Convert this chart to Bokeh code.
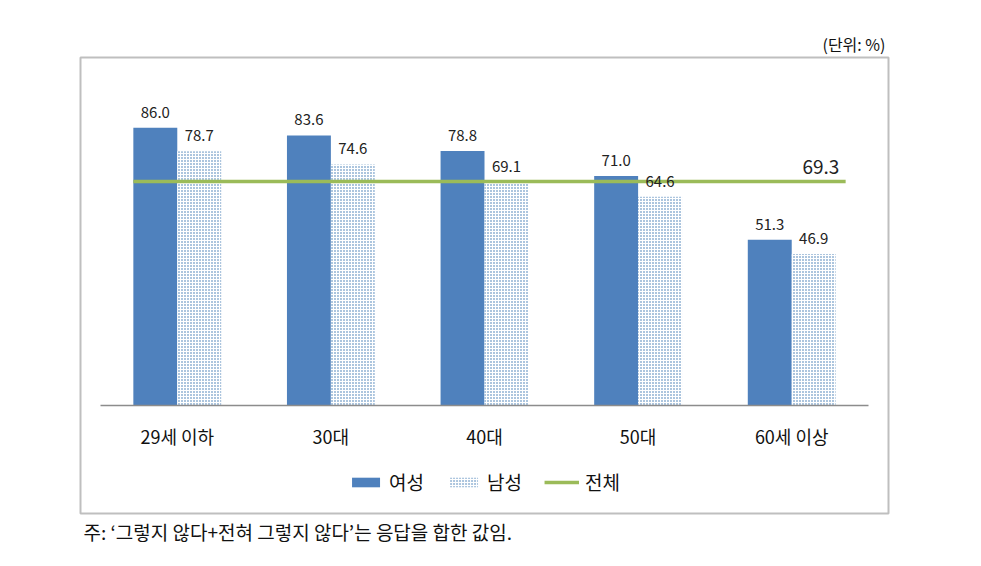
from bokeh.plotting import figure
from bokeh.models import FactorRange, Range1d, ColumnDataSource, Title, Legend, LegendItem
from bokeh.transform import dodge
from bokeh.core.properties import value
from bokeh.embed import file_html
from bokeh.resources import INLINE

categories = ["29세 이하", "30대", "40대", "50대", "60세 이상"]
female = [86.0, 83.6, 78.8, 71.0, 51.3]
male = [78.7, 74.6, 69.1, 64.6, 46.9]
total = 69.3
series_names = ["여성", "남성", "전체"]
unit_text = "(단위: %)"
note_text = "주: ‘그렇지 않다+전혀 그렇지 않다’는 응답을 합한 값임."

FONT = value("Noto Sans CJK KR")
BLUE = "#4F81BD"
GREEN = "#9BBB59"

src = ColumnDataSource(dict(
    cat=categories, female=female, male=male,
    flab=[f"{v:.1f}" for v in female], mlab=[f"{v:.1f}" for v in male],
))

p = figure(
    width=981, height=566, output_backend="svg", toolbar_location=None,
    x_range=FactorRange(factors=categories, range_padding=0.13, range_padding_units="absolute"),
    y_range=Range1d(-33.4, 107.7),
    min_border_left=80, min_border_right=93, min_border_top=57, min_border_bottom=53,
)
p.background_fill_color = "white"
p.border_fill_color = "white"
p.outline_line_color = "#BFBFBF"
p.outline_line_width = 2
p.xgrid.visible = False
p.ygrid.visible = False
p.yaxis.visible = False

bw = 0.286
r_f = p.vbar(x=dodge("cat", -bw / 2, range=p.x_range), top="female", width=bw,
             source=src, fill_color=BLUE, line_color=None)
r_m = p.vbar(x=dodge("cat", bw / 2, range=p.x_range), top="male", width=bw,
             source=src, fill_color="white", line_color=None,
             hatch_pattern="dot", hatch_color="#2F6CAD", hatch_scale=3, hatch_weight=2)

r_t = p.line(x=[0.5 - bw, 4.5 + bw + 0.065], y=[total, total], line_color=GREEN, line_width=3.5)

p.text(x=dodge("cat", -bw / 2, range=p.x_range), y="female", text="flab", source=src,
       text_font=FONT, text_font_size="15px", text_color="#222222",
       text_align="center", text_baseline="bottom", y_offset=-10)
p.text(x=dodge("cat", bw / 2, range=p.x_range), y="male", text="mlab", source=src,
       text_font=FONT, text_font_size="15px", text_color="#222222",
       text_align="center", text_baseline="bottom", y_offset=-10)
p.text(x=[4.69], y=[total], text=[f"{total:.1f}"],
       text_font=FONT, text_font_size="19px", text_color="#222222",
       text_align="center", text_baseline="bottom", y_offset=-8)

ax = p.xaxis[0]
ax.fixed_location = 0
ax.bounds = (0, 5)
ax.axis_line_color = "#8C8C8C"
ax.axis_line_width = 1.5
ax.major_tick_line_color = None
ax.minor_tick_line_color = None
ax.major_tick_out = 0
ax.major_tick_in = 0
ax.major_label_standoff = 17
ax.major_label_text_font = "Noto Sans CJK KR"
ax.major_label_text_font_size = "18px"
ax.major_label_text_color = "#111111"

legend = Legend(items=[
    LegendItem(label=series_names[0], renderers=[r_f]),
    LegendItem(label=series_names[1], renderers=[r_m]),
    LegendItem(label=series_names[2], renderers=[r_t]),
], orientation="horizontal", location="bottom_center")
legend.label_text_font = "Noto Sans CJK KR"
legend.label_text_font_size = "19px"
legend.label_text_color = "#111111"
legend.glyph_width = 35
legend.glyph_height = 12
legend.spacing = 22
legend.label_standoff = 6
legend.padding = 0
legend.margin = 18
legend.border_line_color = None
legend.background_fill_alpha = 0
p.add_layout(legend, "center")

p.add_layout(Title(text=unit_text, align="right", text_font="Noto Sans CJK KR",
                   text_font_size="16px", text_font_style="normal", text_color="#111111",
                   standoff=3, offset=3), "above")
p.add_layout(Title(text=note_text, align="left", text_font="Noto Sans CJK KR",
                   text_font_size="19px", text_font_style="normal", text_color="#111111",
                   standoff=5, offset=3), "below")

open("out.html", "w").write(file_html(p, INLINE))
